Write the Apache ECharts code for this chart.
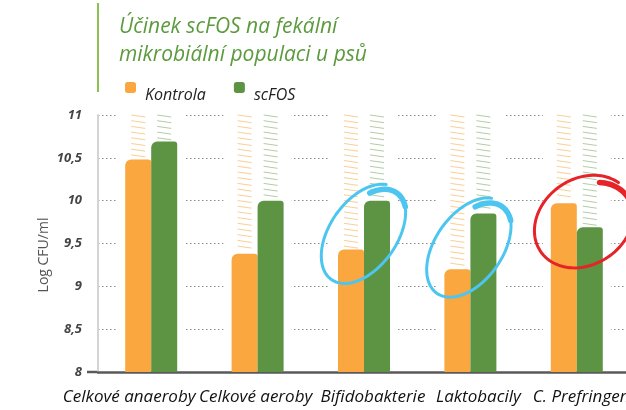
<!DOCTYPE html>
<html>
<head>
<meta charset="utf-8">
<script src="https://cdn.jsdelivr.net/npm/echarts@6/dist/echarts.min.js"></script>
<style>
    html, body { margin: 0; padding: 0; background: #fff; }
    #chart { width: 626px; height: 410px; }
</style>
</head>
<body>
<div id="chart"></div>
<script>
'use strict';
const categories = ['Celkové anaeroby', 'Celkové aeroby', 'Bifidobakterie', 'Laktobacily', 'C. Prefringens'];
const kontrola = [10.48, 9.38, 9.43, 9.2, 9.97];
const scfos = [10.69, 10.0, 10.0, 9.85, 9.69];
const yTicks = [8, 8.5, 9, 9.5, 10, 10.5, 11];

// barvy
const orange = '#f9a73e', green = '#5c9443';
const orangeLight = '#f9cf96', greenLight = '#b3cda5';

let initChart = (function() {
    let myChart = echarts.init(document.getElementById('chart'));
    const yMax = yTicks[yTicks.length - 1];
    const BAR_W = 26;

    // posun popisků osy x (v originále nejsou přesně na středu)
    const labelShift = [-22, -2, 9, 8, 8];
    let xData = categories.map(function(c, i) {
        let s = labelShift[i];
        return {
            value: c,
            textStyle: { padding: s < 0 ? [0, -2 * s, 0, 0] : [0, 0, 0, 2 * s] }
        };
    });

    // šrafování nad sloupci + bílé pozadí skupiny
    function renderHatch(params, api) {
        let idx = api.value(0);
        let top = api.coord([idx, yMax]);
        let bottom = api.coord([idx, yTicks[0]]);
        let cx = top[0];
        let children = [{
            type: 'rect',
            shape: { x: cx - BAR_W - 8, y: top[1] - 3, width: BAR_W * 2 + 16, height: bottom[1] - top[1] + 2 },
            style: { fill: '#fff' }
        }];
        [[1, cx - BAR_W, orangeLight], [2, cx, greenLight]].forEach(function(d) {
            let yBar = api.coord([idx, api.value(d[0])])[1];
            for (let y = top[1]; y < yBar - 3; y += 5.7) {
                children.push({
                    type: 'line',
                    shape: { x1: d[1] + 6, y1: y, x2: d[1] + 20, y2: y + 2 },
                    style: { stroke: d[2], lineWidth: 1 }
                });
            }
        });
        return { type: 'group', children: children };
    }

    // ručně kreslené kroužky
    const notes = [
        { idx: 2, val: 9.62, dx: 0, a: 55, b: 33, rot: -55, color: '#4cc6f0' },
        { idx: 3, val: 9.46, dx: -1, a: 55, b: 33, rot: -55, color: '#4cc6f0' },
        { idx: 4, val: 9.76, dx: 8, a: 52, b: 42, rot: -35, color: '#e52329' }
    ];
    function renderNote(params, api) {
        let n = notes[params.dataIndex];
        let c = api.coord([n.idx, n.val]);
        let cx = c[0] + n.dx, cy = c[1];
        let th = n.rot * Math.PI / 180;
        function pt(t, k) {
            let a = n.a * k, b = n.b * k;
            return [cx + a * Math.cos(t) * Math.cos(th) - b * Math.sin(t) * Math.sin(th),
                    cy + a * Math.cos(t) * Math.sin(th) + b * Math.sin(t) * Math.cos(th)];
        }
        let loop = [], tail = [];
        let tStart = -0.3, tMid = 0.6 - 2 * Math.PI, tEnd = -0.7 - 2 * Math.PI;
        for (let i = 0; i <= 90; i++) {
            let t = tStart + (tMid - tStart) * i / 90;
            loop.push(pt(t, 1 + 0.03 * Math.sin(i / 90 * Math.PI)));
        }
        for (let i = 0; i <= 20; i++) {
            let t = tMid + (tEnd - tMid) * i / 20;
            tail.push(pt(t, 1 - 0.14 * i / 20));
        }
        return {
            type: 'group',
            children: [
                { type: 'polyline', shape: { points: loop }, style: { stroke: n.color, lineWidth: 3, fill: null, lineCap: 'round' } },
                { type: 'polyline', shape: { points: tail }, style: { stroke: n.color, lineWidth: 5.5, fill: null, lineCap: 'round' } }
            ]
        };
    }

    let option = {
        animation: false,
        title: {
            text: 'Účinek scFOS na fekální\nmikrobiální populaci u psů',
            left: 114,
            top: 8,
            textStyle: {
                fontFamily: 'Open Sans',
                fontStyle: 'italic',
                fontWeight: 'normal',
                fontSize: 21,
                lineHeight: 28,
                color: '#5b9a3d'
            }
        },
        graphic: [{
            type: 'line',
            shape: { x1: 98, y1: 3, x2: 98, y2: 92 },
            style: { stroke: '#8cc152', lineWidth: 2 }
        }, {
            type: 'line',
            shape: { x1: 87, y1: 372, x2: 99, y2: 372 },
            style: { stroke: '#5a5a5a', lineWidth: 2.5 }
        }, {
            // popisek osy y (v originále je níž než střed osy)
            type: 'text',
            x: 44,
            y: 255,
            rotation: Math.PI / 2,
            style: {
                text: 'Log CFU/ml',
                font: '14px "Open Sans"',
                fill: '#555',
                align: 'center',
                verticalAlign: 'middle'
            }
        }],
        legend: {
            left: 120,
            top: 77,
            itemWidth: 11,
            itemHeight: 11,
            itemGap: 28,
            icon: 'roundRect',
            data: ['Kontrola', 'scFOS'],
            formatter: '{t|{name}}',
            textStyle: {
                rich: {
                    t: {
                        fontFamily: 'Open Sans',
                        fontStyle: 'italic',
                        fontSize: 16,
                        color: '#222',
                        padding: [16, 0, 0, 4]
                    }
                }
            }
        },
        grid: {
            left: 98,
            top: 115,
            width: 532,
            height: 257,
            outerBoundsMode: 'none'
        },
        xAxis: {
            type: 'category',
            data: xData,
            axisLine: { lineStyle: { color: '#5a5a5a', width: 2.5 } },
            axisTick: { length: 8, lineStyle: { color: '#5a5a5a', width: 2 } },
            axisLabel: {
                interval: 0,
                margin: 17,
                fontFamily: 'Open Sans',
                fontStyle: 'italic',
                fontSize: 17,
                color: '#111'
            }
        },
        yAxis: {
            type: 'value',
            min: yTicks[0],
            max: yMax,
            interval: 0.5,
            axisLine: { show: true, lineStyle: { color: '#d4d4d4', width: 2 } },
            axisTick: { show: false },
            axisLabel: {
                margin: 16,
                fontFamily: 'Open Sans',
                fontStyle: 'italic',
                fontWeight: 'bold',
                fontSize: 13,
                color: '#444',
                formatter: function(v) { return String(v).replace('.', ','); }
            },
            splitLine: { lineStyle: { color: '#8a8a8a', width: 1, type: [1.5, 2.5] } }
        },
        series: [{
            type: 'custom',
            z: 1,
            silent: true,
            renderItem: renderHatch,
            encode: { x: 0, y: [1, 2] },
            data: categories.map(function(c, i) { return [i, kontrola[i], scfos[i]]; })
        }, {
            name: 'Kontrola',
            type: 'bar',
            z: 2,
            barWidth: BAR_W,
            barGap: '0%',
            itemStyle: { color: orange, borderRadius: [6, 3, 0, 0] },
            data: kontrola
        }, {
            name: 'scFOS',
            type: 'bar',
            z: 2,
            barWidth: BAR_W,
            itemStyle: { color: green, borderRadius: [6, 3, 0, 0] },
            data: scfos
        }, {
            type: 'custom',
            z: 5,
            silent: true,
            renderItem: renderNote,
            encode: { x: 0, y: 1 },
            data: notes.map(function(n) { return [n.idx, n.val]; })
        }]
    };

    myChart.setOption(option);
})();
</script>
</body>
</html>
